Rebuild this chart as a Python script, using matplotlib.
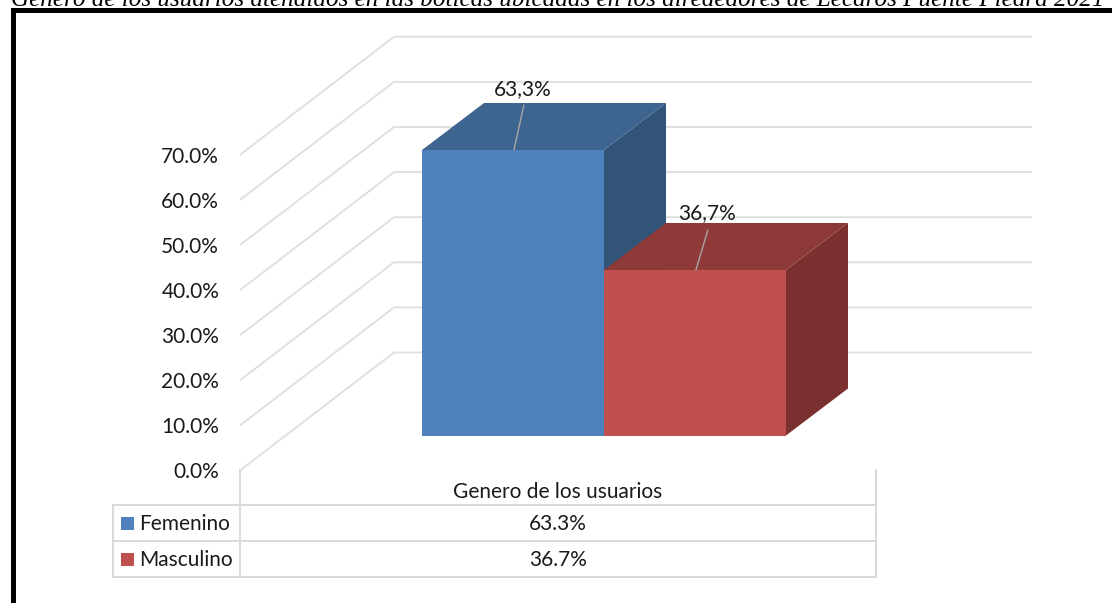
import matplotlib
matplotlib.use('Agg')
import matplotlib.pyplot as plt
from matplotlib.patches import Polygon, Rectangle

categorias = ['Femenino', 'Masculino']
valores = [63.3, 36.7]
etiquetas = ['63,3%', '36,7%']
tabla = ['63.3%', '36.7%']
ticks = [0, 10, 20, 30, 40, 50, 60, 70]
titulo = 'Genero de los usuarios atendidos en las boticas ubicadas en los alrededores de Lecaros Puente Piedra 2021'
serie = 'Genero de los usuarios'

W, H = 1112, 603
fs = 15
fig = plt.figure(figsize=(W / 100, H / 100), dpi=100, facecolor='white')

# capa de pixeles para marco, titulo y tabla
lay = fig.add_axes([0, 0, 1, 1])
lay.set_xlim(0, W)
lay.set_ylim(H, 0)
lay.axis('off')

lay.text(11, 5.5, titulo, family='Liberation Serif', style='italic', fontsize=18.1,
         color='black', ha='left', va='baseline', clip_on=False)
lay.plot([12.5, 12.5, W], [H, 10, 10], color='black', lw=3.6, solid_joinstyle='miter')

# ejes: 45 px por cada 10 %, 182 px por categoria
top_px, base_px = 30, 470.5
left_px, right_px = 240, 1032
ax = fig.add_axes([left_px / W, 1 - base_px / H, (right_px - left_px) / W, (base_px - top_px) / H])
ax.patch.set_alpha(0)
esc_y = 4.51
esc_x = 182
ax.set_ylim(0, (base_px - top_px) / esc_y)
ax.set_xlim((left_px - 422) / esc_x, (right_px - 422) / esc_x)
for s in ax.spines.values():
    s.set_visible(False)
ax.set_xticks([])
ax.set_yticks(ticks)
ax.set_yticklabels(['%.1f%%' % t for t in ticks], family='Lato', fontsize=fs, color='#1a1a1a')
ax.tick_params(axis='y', length=0, pad=15)

# rejilla: diagonal de pared y linea de fondo
x0 = ax.get_xlim()[0]
x1 = ax.get_xlim()[1]
dx_pared = 154 / esc_x
dy_pared = 118 / esc_y
for t in ticks:
    ax.plot([x0, x0 + dx_pared, x1], [t, t + dy_pared, t + dy_pared], color='#e0e0e0', lw=1.4, zorder=1)

# barras oblicuas
dx_bar = 62 / esc_x
dy_bar = 47 / esc_y
base = 35 / esc_y
col_frente = ['#4f81bd', '#c0504d']
col_techo = ['#3e6490', '#8e3a38']
col_lado = ['#325479', '#7a302e']
for i, v in enumerate(valores):
    y0 = base
    y1 = base + v
    ax.add_patch(Polygon([(i + 1, y0), (i + 1 + dx_bar, y0 + dy_bar), (i + 1 + dx_bar, y1 + dy_bar), (i + 1, y1)],
                         facecolor=col_lado[i], edgecolor='none', zorder=2 + i))
    ax.add_patch(Polygon([(i, y1), (i + dx_bar, y1 + dy_bar), (i + 1 + dx_bar, y1 + dy_bar), (i + 1, y1)],
                         facecolor=col_techo[i], edgecolor='none', zorder=2 + i))
    ax.add_patch(Rectangle((i, y0), 1, v, facecolor=col_frente[i], edgecolor='none', zorder=3 + i))

offs = [(10, 45), (12, 40)]
offs_txt = [(9, 60.5), (11, 56.5)]
for i, v in enumerate(valores):
    xy = (i + 0.505, base + v)
    ax.annotate('', xy=xy, xytext=offs[i], textcoords='offset pixels',
                arrowprops=dict(arrowstyle='-', color='#a6a6a6', lw=1, shrinkA=0, shrinkB=0), zorder=8)
    ax.annotate(etiquetas[i], xy=xy, xytext=offs_txt[i], textcoords='offset pixels', ha='center', va='center',
                family='Lato', fontsize=fs, color='#1a1a1a', zorder=9)

# tabla de datos
gris = '#d9d9d9'
filas = [505, 541, 577]
lay.set_zorder(ax.get_zorder() + 1)
lay.patch.set_alpha(0)
for y in filas:
    lay.plot([113, 876], [y, y], color=gris, lw=1.4)
lay.plot([113, 113], [505, 577], color=gris, lw=1.4)
lay.plot([240, 240], [470, 577], color=gris, lw=1.4)
lay.plot([876, 876], [470, 577], color=gris, lw=1.4)
lay.text(558, 492, serie, family='Lato', fontsize=fs, color='#1a1a1a', ha='center', va='center')
for i, c in enumerate(categorias):
    yc = (filas[i] + filas[i + 1]) / 2
    lay.add_patch(Rectangle((121, yc - 6.5), 13, 13, facecolor=col_frente[i], edgecolor='none'))
    lay.text(139, yc + 0.5, c, family='Lato', fontsize=fs, color='#1a1a1a', ha='left', va='center')
    lay.text(558, yc + 0.5, tabla[i], family='Lato', fontsize=fs, color='#1a1a1a', ha='center', va='center')

fig.savefig('out.png', dpi=100)
